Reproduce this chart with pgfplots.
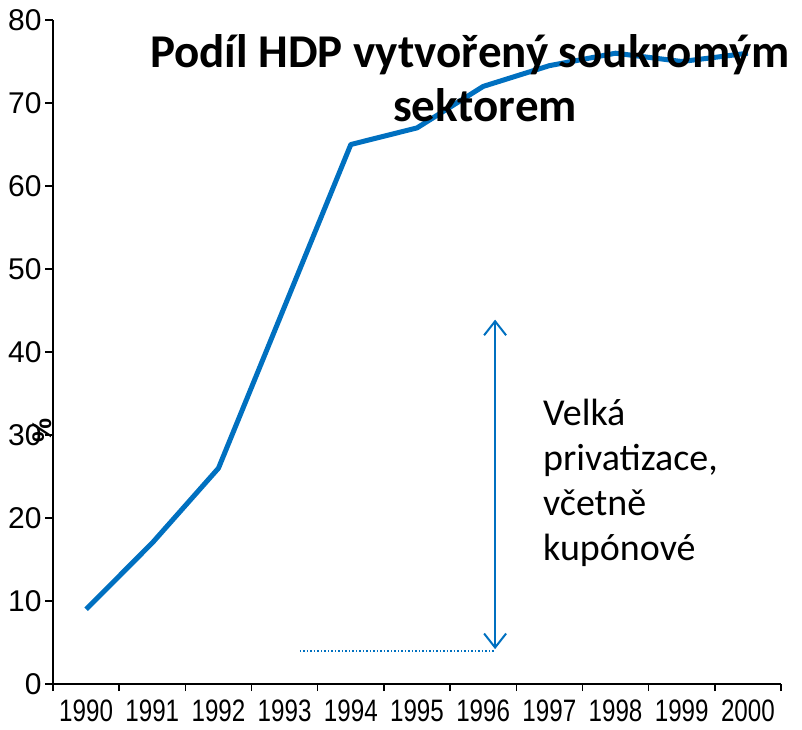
\documentclass[border=0pt]{standalone}
\usepackage{fontspec}
\setmainfont{Carlito}
\newfontfamily\arialnarrow[FakeStretch=0.78]{Liberation Sans}
\newfontfamily\arial{Liberation Sans}
\usepackage{pgfplots}
\pgfplotsset{compat=1.18}
\usetikzlibrary{arrows.meta}
\definecolor{lineblue}{RGB}{0,112,192}
\begin{document}
\begin{tikzpicture}
\begin{axis}[
  scale only axis,
  width=728pt, height=664pt,
  xmin=-0.5, xmax=10.5, ymin=0, ymax=80,
  axis x line=bottom, axis y line=left,
  axis line style={-, line width=1.8pt, black},
  tick align=outside,
  xtick={0,...,10},
  xticklabels={1990,1991,1992,1993,1994,1995,1996,1997,1998,1999,2000},
  minor xtick={-0.5,0.5,...,10.5},
  xtick style={draw=none},
  minor x tick style={draw=black, line width=1.5pt},
  minor tick length=7pt,
  major tick length=8pt,
  ytick={0,10,...,80},
  y tick style={black, line width=1.5pt},
  xticklabel style={font=\arialnarrow\fontsize{31}{31}\selectfont, yshift=-4pt},
  yticklabel style={font=\arial\fontsize{30}{30}\selectfont},
  /pgf/number format/assume math mode=true,
  clip=false,
]
\addplot[lineblue, line width=5pt, line join=round] coordinates {
(0,9) (1,17) (2,26) (3,45.5) (4,65) (5,67) (6,72) (7,74.5) (8,76) (9,75) (10,76)};
\draw[lineblue, line width=2pt, {Straight Barb[length=14pt,width=22pt]}-{Straight Barb[length=14pt,width=22pt]}] (axis cs:6.18,4.2) -- (axis cs:6.18,43.9);
\draw[lineblue, line width=1.5pt, dotted] (axis cs:3.23,4.0) -- (axis cs:6.18,4.0);
\node[rotate=90, font=\arial\bfseries\fontsize{27}{27}\selectfont] at ([xshift=-11pt]axis cs:-0.5,30.6) {\%};
\end{axis}
\begin{scope}[font=\fontsize{47}{47}\selectfont\bfseries]
\node[anchor=base, inner sep=0pt] at (417pt,616pt) {Podíl HDP vytvořený soukromým};
\node[anchor=base, inner sep=0pt] at (432pt,562pt) {sektorem};
\end{scope}
\begin{scope}[font=\fontsize{38}{38}\selectfont]
\node[anchor=base west, inner sep=0pt] at (490pt,259pt) {Velká};
\node[anchor=base west, inner sep=0pt] at (490pt,214pt) {privatizace,};
\node[anchor=base west, inner sep=0pt] at (490pt,169pt) {včetně};
\node[anchor=base west, inner sep=0pt] at (490pt,124pt) {kupónové};
\end{scope}
\pgfresetboundingbox
\useasboundingbox (-53pt,-45pt) rectangle (749pt,684pt);
\end{tikzpicture}
\end{document}
